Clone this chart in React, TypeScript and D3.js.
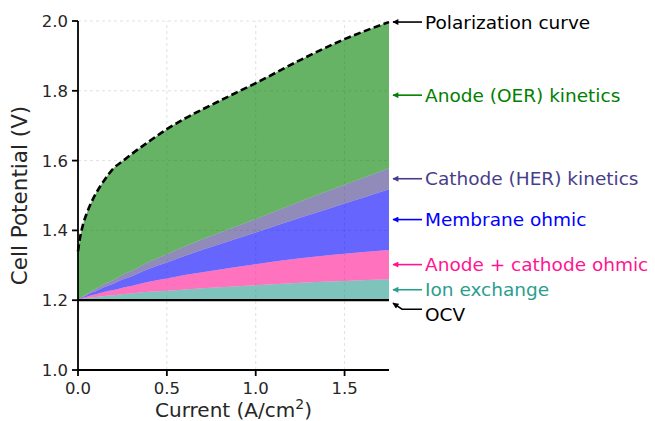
import React from "react";
import * as d3 from "d3";

// Current density samples (A/cm²)
const current = [0, 0.01, 0.02, 0.03, 0.05, 0.075, 0.1, 0.15, 0.2, 0.25, 0.3, 0.4, 0.5, 0.6, 0.8, 1.0, 1.25, 1.5, 1.75];
// Total cell potential (V)
const polarization = [1.34, 1.375, 1.4, 1.42, 1.45, 1.48, 1.505, 1.545, 1.578, 1.598, 1.618, 1.655, 1.69, 1.72, 1.772, 1.822, 1.888, 1.948, 1.997];
// Overpotential contributions (V), stacked from OCV upward
const ionExchange = [0, 0.002, 0.003, 0.004, 0.006, 0.008, 0.009, 0.012, 0.014, 0.017, 0.019, 0.024, 0.027, 0.031, 0.037, 0.043, 0.05, 0.055, 0.06];
const electrodeOhmic = [0, 0.001, 0.002, 0.003, 0.004, 0.006, 0.008, 0.012, 0.015, 0.019, 0.022, 0.029, 0.035, 0.041, 0.051, 0.06, 0.07, 0.078, 0.084];
const membraneOhmic = [0, 0.001, 0.002, 0.003, 0.0045, 0.007, 0.009, 0.014, 0.018, 0.023, 0.027, 0.037, 0.046, 0.055, 0.073, 0.091, 0.116, 0.144, 0.174];
const cathodeKinetics = [0, 0.001, 0.002, 0.002, 0.004, 0.005, 0.007, 0.009, 0.011, 0.014, 0.016, 0.02, 0.024, 0.027, 0.033, 0.039, 0.047, 0.054, 0.06];
const ocv = 1.2;

const xTicks = [0, 0.5, 1.0, 1.5];
const yTicks = [1.0, 1.2, 1.4, 1.6, 1.8, 2.0];

const layerNames = ["Ion exchange", "Anode + cathode ohmic", "Membrane ohmic", "Cathode (HER) kinetics"];
const layerColors = ["#2a9d8f", "#ff1493", "#0000ff", "#483d8b"];
const kineticsName = "Anode (OER) kinetics";
const kineticsColor = "#008000";

const W = 655;
const H = 421;
const M = { left: 78, right: 266, top: 21, bottom: 51 };
const FONT = "DejaVu Sans, Verdana, sans-serif";

const markerId = (c: string) => `head-${c.replace("#", "")}`;

export default function App() {
  const x = d3.scaleLinear().domain([0, 1.75]).range([M.left, W - M.right]);
  const y = d3.scaleLinear().domain([1.0, 2.0]).range([H - M.bottom, M.top]);

  // cumulative stack boundaries
  const layers = [ionExchange, electrodeOhmic, membraneOhmic, cathodeKinetics];
  const bounds: number[][] = [current.map(() => ocv)];
  layers.forEach((arr) => {
    const prev = bounds[bounds.length - 1];
    bounds.push(arr.map((v, i) => prev[i] + v));
  });

  const area = (lo: number[], hi: number[]) =>
    d3
      .area<number>()
      .x((_, i) => x(current[i]))
      .y0((_, i) => y(lo[i]))
      .y1((_, i) => y(hi[i]))
      .curve(d3.curveMonotoneX)(current)!;

  const line = d3
    .line<number>()
    .x((_, i) => x(current[i]))
    .y((_, i) => y(polarization[i]))
    .curve(d3.curveMonotoneX)(current)!;

  const last = current.length - 1;
  const top = bounds[bounds.length - 1];

  const annotations = [
    { text: "Polarization curve", color: "#000000", v: polarization[last] },
    { text: kineticsName, color: kineticsColor, v: (top[last] + polarization[last]) / 2 },
    ...[3, 2, 1, 0].map((k) => ({
      text: layerNames[k],
      color: layerColors[k],
      v: (bounds[k][last] + bounds[k + 1][last]) / 2,
    })),
  ];

  const xEnd = x(1.75);
  const tipX = xEnd + 4;
  const tailX = xEnd + 33;
  const textX = xEnd + 36;

  return (
    <svg width={W} height={H} style={{ position: "absolute", left: 0, top: 0 }} fontFamily={FONT}>
      <defs>
        {["#000000", kineticsColor, ...layerColors].map((c) => (
          <marker
            key={c}
            id={markerId(c)}
            viewBox="0 0 10 10"
            refX={9}
            refY={5}
            markerWidth={7}
            markerHeight={6}
            markerUnits="userSpaceOnUse"
            orient="auto"
          >
            <path d="M0,0 L10,5 L0,10 Z" fill={c} />
          </marker>
        ))}
      </defs>
      <rect width={W} height={H} fill="#ffffff" />

      {/* grid */}
      <g stroke="#d9d9d9" strokeWidth={0.8} strokeDasharray="3,3">
        {xTicks.slice(1).map((t) => (
          <line key={t} x1={x(t)} x2={x(t)} y1={y(1.0)} y2={y(2.0)} />
        ))}
        {yTicks.slice(1).map((t) => (
          <line key={t} x1={x(0)} x2={xEnd} y1={y(t)} y2={y(t)} />
        ))}
      </g>

      {/* stacked contributions */}
      {layers.map((_, k) => (
        <path key={k} d={area(bounds[k], bounds[k + 1])} fill={layerColors[k]} fillOpacity={0.6} />
      ))}
      <path d={area(top, polarization)} fill={kineticsColor} fillOpacity={0.6} />

      {/* OCV */}
      <line x1={x(0)} x2={xEnd} y1={y(ocv)} y2={y(ocv)} stroke="#000" strokeWidth={2.2} />

      {/* polarization curve */}
      <path d={line} fill="none" stroke="#000" strokeWidth={2.6} strokeDasharray="7,3.5" />

      {/* axes */}
      <g stroke="#000" strokeWidth={1.8}>
        <line x1={x(0)} x2={x(0)} y1={y(1.0) + 0.9} y2={y(2.0)} />
        <line x1={x(0) - 0.9} x2={xEnd} y1={y(1.0)} y2={y(1.0)} />
        {yTicks.map((t) => (
          <line key={t} x1={x(0) - 6} x2={x(0)} y1={y(t)} y2={y(t)} />
        ))}
        {xTicks.map((t) => (
          <line key={t} x1={x(t)} x2={x(t)} y1={y(1.0)} y2={y(1.0) + 6} />
        ))}
      </g>
      <g fontSize={16.5} fill="#262626">
        {yTicks.map((t) => (
          <text key={t} x={x(0) - 10} y={y(t)} dy="0.36em" textAnchor="end">
            {d3.format(".1f")(t)}
          </text>
        ))}
        {xTicks.map((t) => (
          <text key={t} x={x(t)} y={394} textAnchor="middle">
            {d3.format(".1f")(t)}
          </text>
        ))}
      </g>
      <text x={(x(0) + xEnd) / 2} y={416.5} textAnchor="middle" fontSize={20} fill="#262626">
        Current (A/cm<tspan dy={-8} fontSize={14}>2</tspan>
        <tspan dy={8}>)</tspan>
      </text>
      <text
        transform={`translate(27,${(y(1.0) + y(2.0)) / 2}) rotate(-90)`}
        textAnchor="middle"
        fontSize={21.5}
        fill="#262626"
      >
        Cell Potential (V)
      </text>

      {/* annotations */}
      {annotations.map((a) => (
        <g key={a.text}>
          <line
            x1={tailX}
            x2={tipX}
            y1={y(a.v)}
            y2={y(a.v)}
            stroke={a.color}
            strokeWidth={1.6}
            markerEnd={`url(#${markerId(a.color)})`}
          />
          <text x={textX} y={y(a.v)} dy="0.36em" fontSize={18.5} fill={a.color}>
            {a.text}
          </text>
        </g>
      ))}
      <path
        d={`M${tailX},${y(ocv) + 9} L${xEnd + 13},${y(ocv) + 9} L${tipX},${y(ocv) + 3}`}
        fill="none"
        stroke="#000"
        strokeWidth={1.6}
        markerEnd={`url(#${markerId("#000000")})`}
      />
      <text x={textX} y={y(ocv) + 14} dy="0.36em" fontSize={18.5} fill="#000">
        OCV
      </text>
    </svg>
  );
}
